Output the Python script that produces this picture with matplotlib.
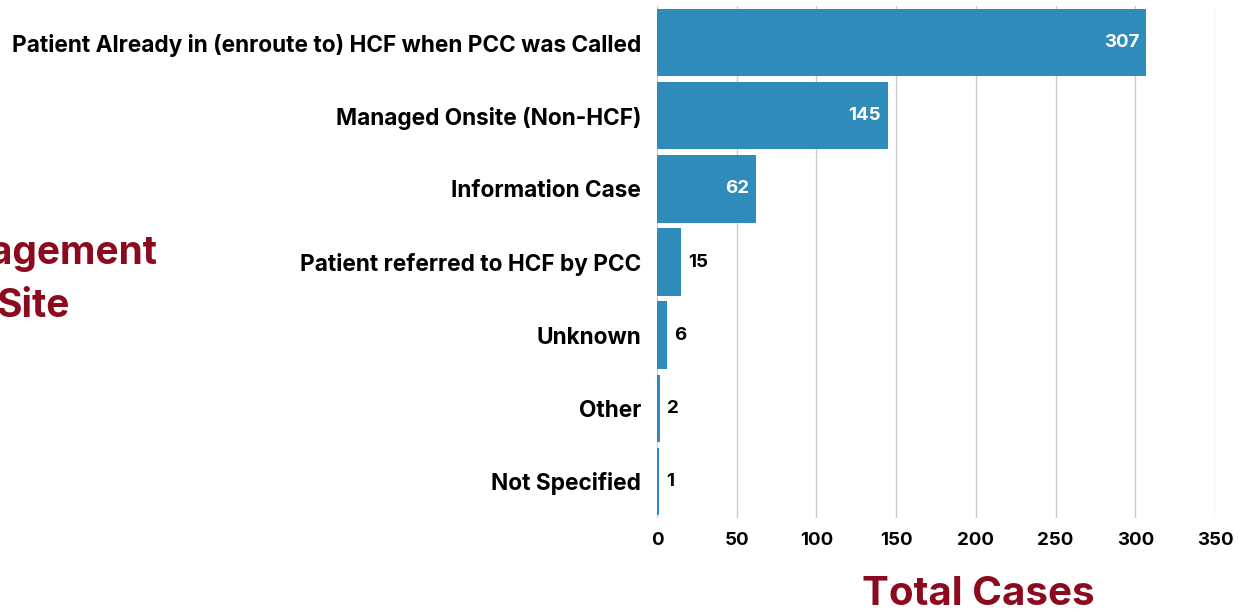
import matplotlib
matplotlib.use("Agg")
import matplotlib.pyplot as plt

# dados
categorias = [
    "Patient Already in (enroute to) HCF when PCC was Called",
    "Managed Onsite (Non-HCF)",
    "Information Case",
    "Patient referred to HCF by PCC",
    "Unknown",
    "Other",
    "Not Specified",
]
casos = [307, 145, 62, 15, 6, 2, 1]
ticks_x = [0, 50, 100, 150, 200, 250, 300, 350]

azul = "#2E8BBA"
vermelho = "#8C0A1E"

plt.rcParams["font.family"] = ["Inter", "DejaVu Sans"]

fig = plt.figure(figsize=(12.44, 6.12), dpi=100)
ax = fig.add_axes([657 / 1244, 1 - 518 / 612, (1215 - 657) / 1244, 512 / 612])

y = list(range(len(categorias)))
ax.barh(y, casos, height=0.92, color=azul, zorder=3)

# rotulos dos valores
for yi, v in zip(y, casos):
    if v > 40:
        ax.text(v - 4.5, yi, str(v), ha="right", va="center", color="white",
                fontsize=13.5, fontweight="bold", zorder=4)
    else:
        ax.text(v + 4.5, yi, str(v), ha="left", va="center", color="black",
                fontsize=13.5, fontweight="bold", zorder=4)

ax.set_xlim(0, 350)
ax.set_ylim(len(categorias) - 0.5, -0.5)
ax.set_yticks(y)
ax.set_yticklabels(categorias, fontsize=16.3, fontweight="bold")
ax.set_xticks(ticks_x)
ax.set_xticklabels([str(t) for t in ticks_x], fontsize=13.5, fontweight="bold")
ax.tick_params(axis="both", length=0)
ax.tick_params(axis="y", pad=11.5)
ax.tick_params(axis="x", pad=10)

ax.grid(axis="x", color="#cccccc", linewidth=1, zorder=0)
for s in ax.spines.values():
    s.set_visible(False)

# titulo do eixo x
fig.text(978 / 1244, 1 - 605 / 612, "Total Cases", ha="center", va="baseline",
         fontsize=29, fontweight="bold", color=vermelho)

# titulo do eixo y (cortado na borda, como no original)
fig.text(33 / 1244, 1 - 280 / 612, "Management\nSite", ha="center", va="center",
         fontsize=28, fontweight="bold", color=vermelho, linespacing=1.55)

fig.savefig("out.png", dpi=100)
